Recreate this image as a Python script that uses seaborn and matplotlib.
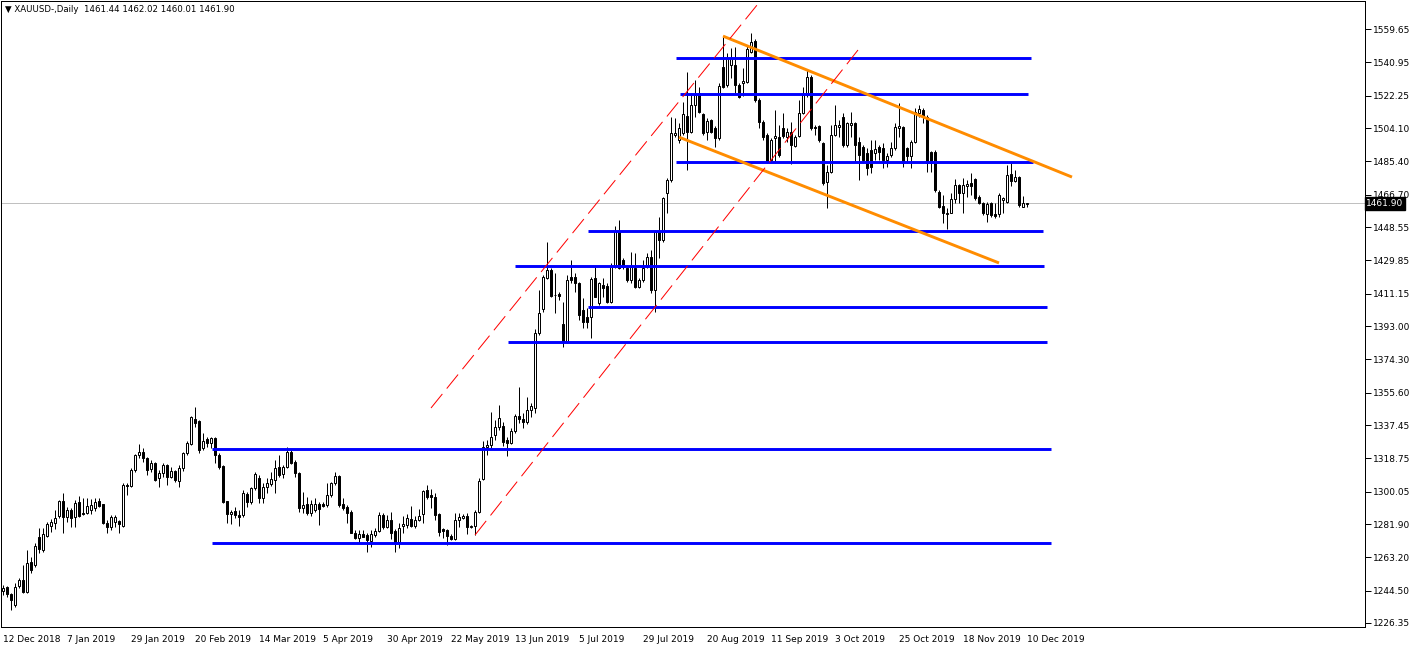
import numpy as np
import pandas as pd
import matplotlib
matplotlib.use('Agg')
from matplotlib import pyplot as plt
import seaborn as sns

# XAUUSD daily candles, 12 Dec 2018 .. 10 Dec 2019
opens = [
    1244.5, 1246.4, 1242.5, 1236.5, 1247.3, 1250.5, 1243.6, 1260.8, 1258.9, 1274.8,
    1267.3, 1275.4, 1281.0, 1282.7, 1286.4, 1294.8, 1286.0, 1289.8, 1285.7, 1294.1,
    1287.8, 1287.9, 1289.8, 1290.7, 1294.8, 1293.1, 1282.7, 1280.4, 1283.2, 1283.6,
    1281.0, 1303.8, 1303.2, 1312.2, 1320.6, 1322.1, 1319.1, 1312.8, 1316.0, 1307.5,
    1310.7, 1315.0, 1308.5, 1311.7, 1306.0, 1313.2, 1321.6, 1326.6, 1340.8, 1339.7,
    1324.4, 1329.6, 1327.5, 1330.0, 1320.6, 1314.6, 1294.8, 1287.3, 1289.2, 1287.0,
    1287.0, 1298.8, 1294.5, 1301.9, 1307.5, 1296.3, 1302.9, 1304.2, 1306.6, 1314.1,
    1309.8, 1314.1, 1322.5, 1316.9, 1310.3, 1290.7, 1292.9, 1287.9, 1289.8, 1292.9,
    1293.1, 1292.6, 1298.2, 1304.7, 1308.8, 1292.9, 1291.6, 1288.8, 1277.1, 1274.2,
    1276.1, 1275.7, 1272.6, 1275.7, 1278.2, 1286.9, 1280.4, 1284.2, 1278.2, 1272.0,
    1280.8, 1281.4, 1284.5, 1280.8, 1284.2, 1287.5, 1301.0, 1298.2, 1297.3, 1287.5,
    1278.9, 1278.6, 1275.2, 1273.5, 1284.0, 1285.1, 1286.4, 1280.1, 1280.8, 1288.9,
    1307.0, 1324.9, 1326.2, 1331.9, 1336.2, 1336.9, 1329.1, 1327.6, 1334.3, 1342.5,
    1341.0, 1339.0, 1346.0, 1347.0, 1388.9, 1402.4, 1419.8, 1424.4, 1410.2, 1410.9,
    1394.1, 1384.2, 1420.3, 1420.3, 1417.3, 1402.0, 1398.3, 1398.3, 1419.8, 1405.7,
    1416.0, 1415.5, 1406.7, 1426.3, 1446.5, 1430.0, 1425.4, 1418.8, 1425.4, 1415.1,
    1418.8, 1426.3, 1431.5, 1413.2, 1445.9, 1441.3, 1467.5, 1474.9, 1500.2, 1497.4,
    1501.1, 1510.8, 1502.1, 1517.0, 1523.6, 1512.0, 1502.1, 1508.6, 1503.9, 1498.3,
    1538.5, 1528.2, 1539.5, 1539.5, 1528.2, 1529.5, 1530.1, 1546.9, 1553.1, 1519.8,
    1507.7, 1500.2, 1486.2, 1498.3, 1499.3, 1503.9, 1499.3, 1502.1, 1494.0, 1499.6,
    1512.7, 1522.6, 1532.9, 1504.9, 1505.2, 1495.5, 1474.0, 1479.6, 1500.2, 1504.9,
    1510.5, 1494.6, 1505.8, 1506.7, 1496.4, 1493.6, 1490.3, 1491.8, 1490.3, 1493.3,
    1492.7, 1486.2, 1489.0, 1492.7, 1503.9, 1504.9, 1492.7, 1488.4, 1496.4, 1512.7,
    1514.2, 1510.5, 1490.8, 1490.8, 1468.4, 1460.3, 1455.9, 1456.6, 1464.1, 1472.1,
    1467.5, 1471.6, 1473.1, 1475.3, 1465.2, 1461.8, 1455.9, 1462.2, 1455.9, 1455.9,
    1463.7, 1462.8, 1478.1, 1474.5, 1476.4, 1460.0, 1461.44,
]
highs = [
    1247.7, 1247.1, 1243.4, 1248.6, 1251.4, 1258.9, 1267.3, 1263.6, 1271.1, 1279.5,
    1279.5, 1283.2, 1284.5, 1289.8, 1295.4, 1299.5, 1291.3, 1290.7, 1295.4, 1297.6,
    1296.3, 1296.3, 1295.7, 1296.3, 1296.3, 1293.1, 1284.2, 1287.0, 1287.0, 1284.2,
    1304.7, 1305.1, 1313.1, 1321.0, 1326.6, 1324.4, 1319.7, 1317.8, 1316.9, 1312.2,
    1316.0, 1315.4, 1314.1, 1312.2, 1315.0, 1322.5, 1328.5, 1342.7, 1347.7, 1340.3,
    1332.8, 1330.9, 1330.9, 1330.9, 1321.6, 1315.0, 1294.8, 1289.8, 1291.6, 1289.8,
    1301.0, 1300.1, 1302.9, 1311.3, 1309.4, 1304.7, 1307.5, 1311.3, 1317.8, 1320.6,
    1315.0, 1325.3, 1323.4, 1317.8, 1311.3, 1300.0, 1297.2, 1295.4, 1296.3, 1294.4,
    1294.4, 1304.7, 1305.7, 1311.3, 1309.4, 1296.3, 1292.6, 1289.8, 1278.5, 1278.5,
    1278.5, 1276.7, 1278.5, 1279.5, 1288.8, 1287.9, 1286.9, 1288.8, 1278.9, 1282.3,
    1286.4, 1287.5, 1292.0, 1286.4, 1290.2, 1301.0, 1303.8, 1301.4, 1299.1, 1288.3,
    1279.5, 1278.9, 1276.3, 1287.9, 1287.9, 1287.5, 1287.9, 1281.4, 1289.8, 1307.5,
    1328.5, 1329.1, 1344.9, 1340.3, 1348.7, 1339.3, 1330.9, 1335.6, 1343.6, 1359.0,
    1344.0, 1353.0, 1350.0, 1391.1, 1413.2, 1421.6, 1440.3, 1425.4, 1422.6, 1412.3,
    1406.7, 1421.6, 1430.0, 1422.6, 1417.9, 1408.5, 1402.9, 1420.7, 1426.3, 1417.9,
    1419.8, 1416.9, 1428.2, 1449.1, 1452.5, 1431.0, 1427.2, 1434.7, 1433.8, 1419.8,
    1430.0, 1433.8, 1435.7, 1446.9, 1454.4, 1465.6, 1475.9, 1510.5, 1509.5, 1506.7,
    1518.9, 1535.7, 1523.6, 1531.0, 1527.3, 1512.3, 1509.5, 1509.0, 1505.2, 1529.2,
    1555.4, 1546.0, 1548.8, 1549.7, 1529.2, 1537.6, 1550.7, 1557.6, 1553.9, 1520.8,
    1508.6, 1501.1, 1498.3, 1514.2, 1505.8, 1512.4, 1503.9, 1507.7, 1500.2, 1519.8,
    1527.3, 1536.6, 1533.8, 1505.8, 1505.8, 1496.4, 1483.4, 1505.8, 1517.0, 1508.6,
    1512.7, 1507.7, 1513.3, 1507.7, 1499.3, 1494.6, 1492.7, 1497.4, 1497.4, 1494.6,
    1495.5, 1489.9, 1496.4, 1506.7, 1517.9, 1505.2, 1493.6, 1497.4, 1515.1, 1517.0,
    1515.1, 1511.4, 1491.2, 1491.8, 1469.3, 1466.5, 1459.0, 1467.5, 1475.3, 1472.7,
    1475.9, 1474.9, 1479.0, 1475.9, 1466.5, 1462.8, 1462.8, 1462.8, 1462.2, 1467.5,
    1465.6, 1483.3, 1485.2, 1480.5, 1477.2, 1465.9, 1462.02,
]
lows = [
    1242.1, 1240.8, 1233.7, 1235.5, 1245.8, 1243.0, 1243.0, 1254.2, 1258.0, 1265.5,
    1266.4, 1274.8, 1277.6, 1278.9, 1285.1, 1277.1, 1283.2, 1280.0, 1280.4, 1285.7,
    1287.0, 1287.5, 1287.5, 1289.4, 1291.6, 1281.9, 1277.1, 1278.6, 1280.4, 1277.1,
    1280.4, 1298.2, 1302.9, 1311.3, 1318.8, 1316.9, 1309.4, 1311.3, 1306.0, 1302.9,
    1308.5, 1303.8, 1307.5, 1305.7, 1302.9, 1311.7, 1320.6, 1326.2, 1336.5, 1321.6,
    1323.4, 1325.3, 1324.4, 1316.0, 1312.8, 1293.5, 1282.3, 1281.7, 1285.1, 1281.0,
    1286.0, 1291.6, 1293.0, 1301.0, 1293.5, 1293.9, 1299.1, 1303.2, 1299.1, 1308.1,
    1307.5, 1313.1, 1315.6, 1308.5, 1288.8, 1287.9, 1287.0, 1286.4, 1288.8, 1281.4,
    1291.6, 1291.6, 1297.2, 1303.8, 1291.6, 1289.8, 1282.7, 1276.7, 1273.3, 1271.1,
    1274.4, 1266.4, 1269.2, 1274.4, 1277.6, 1278.9, 1279.5, 1273.3, 1266.4, 1268.3,
    1277.1, 1279.5, 1280.1, 1279.9, 1283.8, 1282.3, 1295.8, 1290.7, 1284.2, 1275.2,
    1274.3, 1270.2, 1272.9, 1272.9, 1280.4, 1284.5, 1276.3, 1279.5, 1275.8, 1288.3,
    1306.6, 1320.6, 1324.4, 1329.1, 1334.7, 1325.7, 1320.1, 1326.6, 1332.8, 1338.4,
    1336.0, 1338.0, 1342.0, 1344.0, 1388.0, 1401.1, 1419.2, 1409.1, 1400.1, 1407.6,
    1381.4, 1383.3, 1416.9, 1412.3, 1396.4, 1391.7, 1391.7, 1386.1, 1409.1, 1404.8,
    1409.5, 1406.1, 1406.1, 1425.4, 1424.8, 1424.8, 1417.9, 1417.3, 1414.1, 1414.1,
    1417.9, 1425.4, 1411.4, 1401.1, 1431.0, 1440.3, 1456.6, 1474.0, 1499.3, 1495.5,
    1500.2, 1480.5, 1501.5, 1510.5, 1512.3, 1500.2, 1497.4, 1501.1, 1493.6, 1497.4,
    1526.4, 1527.3, 1532.0, 1523.6, 1520.8, 1522.1, 1529.2, 1546.0, 1518.9, 1503.9,
    1497.4, 1484.7, 1485.2, 1484.3, 1488.0, 1498.3, 1496.4, 1483.9, 1493.3, 1499.3,
    1512.0, 1521.7, 1503.0, 1500.2, 1496.4, 1472.1, 1459.4, 1479.1, 1499.6, 1499.3,
    1493.3, 1493.6, 1498.9, 1485.2, 1474.9, 1484.3, 1477.8, 1478.7, 1486.2, 1486.2,
    1481.5, 1482.0, 1488.0, 1491.8, 1499.3, 1482.0, 1484.3, 1481.5, 1495.5, 1510.5,
    1506.7, 1479.6, 1479.6, 1468.4, 1459.0, 1451.0, 1447.3, 1456.2, 1461.8, 1462.2,
    1456.6, 1465.6, 1466.5, 1463.7, 1461.4, 1455.3, 1451.6, 1454.4, 1453.4, 1454.0,
    1456.2, 1461.8, 1471.6, 1474.0, 1459.6, 1459.6, 1460.01,
]
closes = [
    1245.8, 1242.5, 1239.3, 1246.4, 1250.5, 1243.6, 1260.2, 1256.1, 1269.8, 1267.7,
    1276.3, 1281.9, 1283.2, 1285.1, 1295.0, 1285.7, 1289.8, 1285.5, 1293.9, 1286.4,
    1287.5, 1292.0, 1292.6, 1294.1, 1292.0, 1282.3, 1280.4, 1286.0, 1286.0, 1281.9,
    1303.8, 1303.5, 1312.2, 1320.6, 1322.1, 1318.8, 1312.2, 1316.0, 1306.6, 1310.3,
    1315.0, 1308.5, 1311.7, 1306.6, 1313.2, 1321.6, 1327.2, 1342.1, 1338.4, 1323.4,
    1328.5, 1327.5, 1330.0, 1320.6, 1313.7, 1294.1, 1287.3, 1288.8, 1287.0, 1285.7,
    1299.1, 1294.1, 1301.9, 1309.8, 1296.3, 1302.9, 1304.7, 1307.2, 1313.1, 1309.4,
    1314.1, 1322.5, 1315.9, 1310.3, 1290.7, 1292.6, 1287.9, 1292.9, 1292.9, 1290.1,
    1292.0, 1298.2, 1304.7, 1308.8, 1292.6, 1290.7, 1288.3, 1277.1, 1273.9, 1276.1,
    1274.8, 1272.9, 1276.1, 1278.2, 1286.9, 1280.0, 1284.2, 1277.1, 1271.1, 1279.5,
    1281.9, 1285.1, 1280.8, 1284.2, 1286.4, 1300.4, 1297.3, 1296.9, 1287.0, 1277.6,
    1278.2, 1275.2, 1273.5, 1284.2, 1285.7, 1286.4, 1280.1, 1280.8, 1288.9, 1306.2,
    1325.3, 1326.2, 1330.9, 1336.5, 1341.2, 1328.1, 1327.2, 1334.1, 1342.5, 1341.0,
    1339.0, 1346.0, 1348.0, 1388.9, 1400.1, 1420.3, 1424.4, 1409.8, 1410.6, 1409.8,
    1384.2, 1418.8, 1418.8, 1416.9, 1399.2, 1395.4, 1395.4, 1419.2, 1409.5, 1416.9,
    1414.1, 1406.7, 1426.3, 1446.5, 1425.4, 1426.3, 1418.8, 1426.3, 1415.1, 1418.8,
    1425.4, 1431.5, 1413.2, 1445.9, 1441.3, 1464.7, 1474.9, 1501.1, 1501.5, 1503.9,
    1512.0, 1502.1, 1517.0, 1522.6, 1513.3, 1501.1, 1508.2, 1502.1, 1498.3, 1527.7,
    1527.3, 1543.2, 1543.2, 1528.2, 1521.7, 1530.5, 1548.2, 1552.5, 1519.8, 1507.7,
    1499.3, 1485.2, 1497.4, 1499.6, 1489.0, 1499.6, 1502.1, 1494.6, 1499.3, 1512.4,
    1522.6, 1532.9, 1503.9, 1503.9, 1497.4, 1473.1, 1479.6, 1500.2, 1505.8, 1505.8,
    1494.6, 1506.7, 1507.1, 1494.6, 1489.0, 1486.2, 1481.5, 1482.0, 1492.1, 1490.8,
    1486.2, 1488.4, 1492.7, 1504.9, 1505.2, 1484.3, 1488.4, 1496.4, 1513.3, 1514.6,
    1510.5, 1484.3, 1484.3, 1469.3, 1459.6, 1456.6, 1456.6, 1464.1, 1472.1, 1467.5,
    1472.1, 1472.7, 1471.6, 1464.6, 1462.2, 1456.2, 1461.4, 1455.3, 1454.7, 1466.5,
    1464.6, 1477.7, 1474.5, 1476.4, 1460.9, 1461.8, 1461.90,
]

date_labels = ['12 Dec 2018', '7 Jan 2019', '29 Jan 2019', '20 Feb 2019', '14 Mar 2019',
               '5 Apr 2019', '30 Apr 2019', '22 May 2019', '13 Jun 2019', '5 Jul 2019',
               '29 Jul 2019', '20 Aug 2019', '11 Sep 2019', '3 Oct 2019', '25 Oct 2019',
               '18 Nov 2019', '10 Dec 2019']
price_ticks = [1559.65, 1540.95, 1522.25, 1504.10, 1485.40, 1466.70, 1448.55, 1429.85,
               1411.15, 1393.00, 1374.30, 1355.60, 1337.45, 1318.75, 1300.05, 1281.90,
               1263.20, 1244.50, 1226.35]
last_price = 1461.90
header = '\u25bc XAUUSD-,Daily  1461.44 1462.02 1460.01 1461.90'

# horizontal levels: price, first bar, last bar
level_prices = [1543.4, 1523.4, 1485.2, 1446.5, 1426.9, 1403.9, 1384.2, 1324.0, 1271.0]
level_start = [168.25, 169.25, 168.25, 146.25, 128.0, 146.25, 126.25, 52.25, 52.25]
level_end = [257.0, 256.25, 257.5, 260.0, 260.25, 261.0, 261.0, 262.0, 262.0]

# trend lines: (bar0, price0, bar1, price1)
orange_lines = [(180.0, 1555.7, 267.25, 1476.6), (169.0, 1499.0, 249.0, 1428.4)]
red_lines = [(107.0, 1347.0, 188.5, 1573.1), (118.0, 1275.7, 213.75, 1547.9)]

df = pd.DataFrame({'open': opens, 'high': highs, 'low': lows, 'close': closes})
df['bar'] = np.arange(len(df))
df['bull'] = df['close'] >= df['open']

sns.set_style('white')
plt.rcParams['font.family'] = ['DejaVu Sans']
plt.rcParams['lines.scale_dashes'] = False

W, H = 1411, 646
fig = plt.figure(figsize=(W / 100, H / 100), dpi=100)
ax = fig.add_axes([1 / W, 19 / H, 1364 / W, 626 / H])

px = 0.72  # one pixel in points

# current price line
ax.axhline(last_price, color='#c0c0c0', lw=px, zorder=1)

# candles
ax.vlines(df['bar'], df['low'], df['high'], color='black', lw=px, zorder=2)
body_low = df[['open', 'close']].min(axis=1)
body_h = (df['close'] - df['open']).abs()
colors = np.where(df['bull'], 'white', 'black')
ax.bar(df['bar'], body_h, bottom=body_low, width=0.5, color=colors,
       edgecolor='black', linewidth=px, zorder=3)

# levels and trend lines
for p, s, e in zip(level_prices, level_start, level_end):
    ax.plot([s, e], [p, p], color='#0000ff', lw=2.1, solid_capstyle='butt', zorder=4)
for b0, p0, b1, p1 in orange_lines:
    ax.plot([b0, b1], [p0, p1], color='#ff8c00', lw=2.1, solid_capstyle='butt', zorder=4)
for b0, p0, b1, p1 in red_lines:
    ax.plot([b0, b1], [p0, p1], color='#ff0000', lw=px, linestyle=(0, (13, 5)), zorder=4)

ax.set_xlim(-0.5, 340.5)
ax.set_ylim(1224.1, 1575.4)

ax.yaxis.tick_right()
ax.set_yticks(price_ticks)
ax.set_yticklabels([f'{v:.2f}' for v in price_ticks])
ax.set_xticks(np.arange(len(date_labels)) * 16)
ax.set_xticklabels(date_labels)
for lbl in ax.get_xticklabels():
    lbl.set_horizontalalignment('left')
ax.tick_params(axis='both', direction='out', length=4, width=px, labelsize=6.5,
               colors='black', pad=2)
for sp in ax.spines.values():
    sp.set_color('black')
    sp.set_linewidth(px)

# last price marker on the scale
ax.text(1.001, last_price, f'{last_price:.2f}', transform=ax.get_yaxis_transform(),
        ha='left', va='center', fontsize=6.5, color='white', zorder=10, clip_on=False,
        bbox=dict(boxstyle='square,pad=0.2', fc='black', ec='black'))

fig.text(5 / W, 1 - 10 / H, header, fontsize=6.2, va='center', ha='left', color='black')

fig.savefig('out.png', dpi=100)
